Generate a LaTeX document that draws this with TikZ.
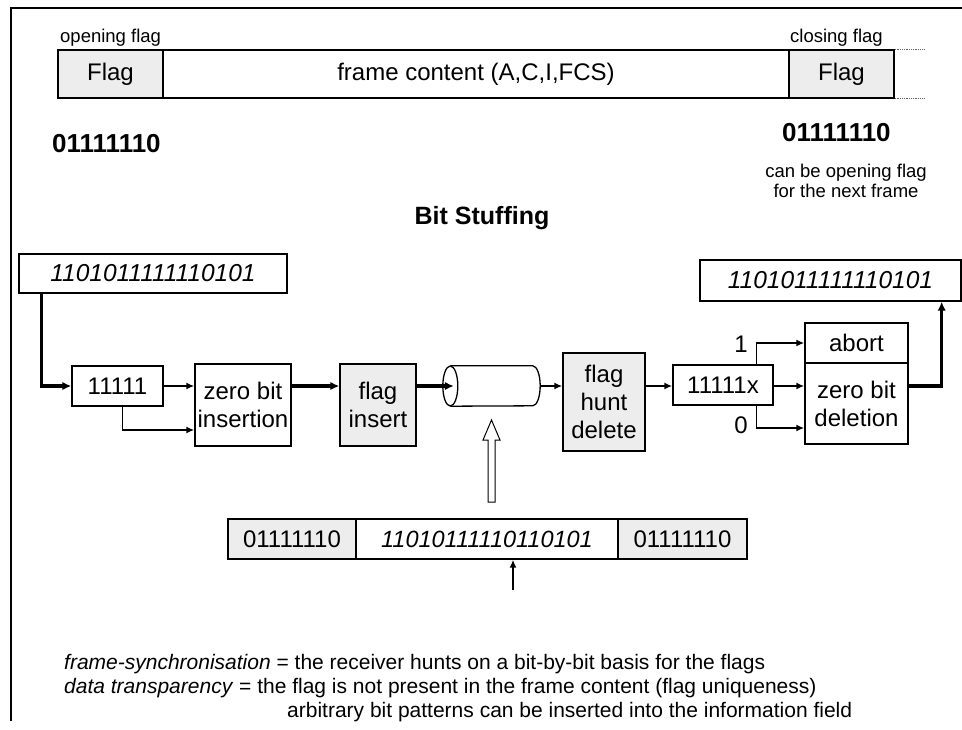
\documentclass[tikz,border=0pt]{standalone}
\usepackage{fontspec}
\setmainfont{Liberation Sans}
\usetikzlibrary{arrows.meta}

\begin{document}
\begin{tikzpicture}[x=1pt,y=-1pt,
  box/.style={draw, line width=1.4pt, inner sep=0pt, align=center,
    font=\fontsize{24}{28}\selectfont},
  shadebox/.style={box, fill=black!7},
  thinarrow/.style={line width=1.6pt, -{Latex[length=8pt,width=7pt]}},
  thickarrow/.style={line width=3.2pt, -{Latex[length=9pt,width=8.5pt]}},
  smalltext/.style={font=\fontsize{18.5}{19.5}\selectfont, inner sep=0pt},
  bigbits/.style={font=\fontsize{26}{30}\selectfont\bfseries, inner sep=0pt},
  bitstring/.style={font=\fontsize{24.5}{28}\selectfont\itshape},
  bodytext/.style={font=\fontsize{21}{24}\selectfont, inner sep=0pt, anchor=base west}
]
\useasboundingbox (0,0) rectangle (962,729);

% page frame
\draw[line width=1.2pt] (11,721) -- (11,8) -- (962,8);

% ---- HDLC frame layout ----
\node[smalltext, anchor=base west] (lblopen) at (60,42) {opening flag};
\node[smalltext, anchor=base west] (lblclose) at (790,42) {closing flag};
\node[shadebox, minimum width=105pt, minimum height=48pt] (flagL) at (110.5,74) {Flag};
\node[box, minimum width=626pt, minimum height=48pt] (content) at (476,74) {frame content (A,C,I,FCS)};
\node[shadebox, minimum width=105pt, minimum height=48pt] (flagR) at (841.5,74) {Flag};
\draw[densely dotted, line width=0.8pt, black!60] (flagR.north east) -- ++(29,0);
\draw[densely dotted, line width=0.8pt, black!60] (flagR.south east) -- ++(29,0);

\node[bigbits, anchor=base west] (bitsL) at (52,152) {01111110};
\node[bigbits, anchor=base west] (bitsR) at (782,141) {01111110};
\node[smalltext, align=center, anchor=base] (nextnote) at (846,197) {can be opening flag\\for the next frame};

\node[font=\fontsize{25}{30}\selectfont\bfseries, inner sep=0pt] (title) at (482,218) {Bit Stuffing};

% ---- transmitter / receiver chain ----
\coordinate (row) at (0,386);
\coordinate (lowA) at (0,430);
\coordinate (lowB) at (0,428);

\node[box, bitstring, minimum width=268pt, minimum height=39pt] (inbits) at (153,273.5) {1101011111110101};
\node[box, bitstring, minimum width=261pt, minimum height=41pt] (outbits) at (830.5,280.5) {1101011111110101};

\node[box, minimum width=91pt, minimum height=40pt] (ones) at (117.5,386) {11111};
\node[box, minimum width=96pt, minimum height=82pt] (zbi) at (243,405) {zero bit\\insertion};
\node[shadebox, minimum width=76pt, minimum height=82pt] (fins) at (378,405) {flag\\insert};
\node[minimum width=97pt, minimum height=40pt, inner sep=0pt] (cyl) at (491.5,386) {};
\draw[line width=1.3pt] ([xshift=7.5pt]cyl.north west) -- ([xshift=-7.5pt]cyl.north east)
  arc[start angle=90, end angle=-90, x radius=7.5pt, y radius=20pt]
  -- ([xshift=7.5pt]cyl.south west);
\draw[line width=1.3pt] ([xshift=7.5pt]cyl.west) ellipse [x radius=7.5pt, y radius=20pt];
\node[shadebox, minimum width=82pt, minimum height=98pt] (fhd) at (604,402) {flag\\hunt\\delete};
\node[box, minimum width=100pt, minimum height=40pt] (onesx) at (723,385) {11111x};
\node[box, minimum width=103pt, minimum height=40pt] (abort) at (856.5,343) {abort};
\node[box, minimum width=103pt, minimum height=81pt] (zbd) at (856.5,403.5) {zero bit\\deletion};
\node[font=\fontsize{24}{28}\selectfont, inner sep=0pt] (lbl1) at (741,344) {1};
\node[font=\fontsize{24}{28}\selectfont, inner sep=0pt] (lbl0) at (741,425) {0};

% connectors
\draw[thickarrow] ([xshift=23pt]inbits.south west) |- (ones.west |- row);
\draw[thinarrow] (ones.east |- row) -- (zbi.west |- row);
\draw[thinarrow] ([xshift=51pt]ones.south west) |- (zbi.west |- lowA);
\draw[thickarrow] (zbi.east |- row) -- (fins.west |- row);
\draw[thickarrow] (fins.east |- row) -- ([xshift=11pt]cyl.west |- row);
\draw[thinarrow] (cyl.east |- row) -- (fhd.west |- row);
\draw[thinarrow] (fhd.east |- row) -- (onesx.west |- row);
\draw[thinarrow] (onesx.east |- row) -- (zbd.west |- row);
\draw[thinarrow] ([xshift=84pt]onesx.north west) |- (abort.west);
\draw[thinarrow] ([xshift=84pt]onesx.south west) |- (zbd.west |- lowB);
\draw[thickarrow] (zbd.east |- row) -| ([xshift=-20pt]outbits.south east);

% ---- transmitted frame ----
\node[shadebox, minimum width=128pt, minimum height=40pt] (fl1) at (292,539) {01111110};
\node[box, bitstring, minimum width=262pt, minimum height=40pt, font=\fontsize{23.5}{28}\selectfont\itshape] (stuffed) at (487,539) {11010111110110101};
\node[shadebox, minimum width=129pt, minimum height=40pt] (fl2) at (682.5,539) {01111110};
\coordinate (ptr) at (513,590);
\draw[thinarrow] (ptr) -- (ptr |- stuffed.south);

% hollow arrow: frame goes onto the line
\draw[line width=1pt, fill=white] (488,502) -- (488,440) -- (483,440) -- (491.5,420)
  -- (500,440) -- (495,440) -- (495,502) -- cycle;

% ---- explanations ----
\node[bodytext] (txt1) at (64,669) {\textit{frame-synchronisation} = the receiver hunts on a bit-by-bit basis for the flags};
\node[bodytext] (txt2) at (64,693) {\textit{data transparency} = the flag is not present in the frame content (flag uniqueness)};
\node[bodytext] (txt3) at (287,717) {arbitrary bit patterns can be inserted into the information field};
\end{tikzpicture}
\end{document}
